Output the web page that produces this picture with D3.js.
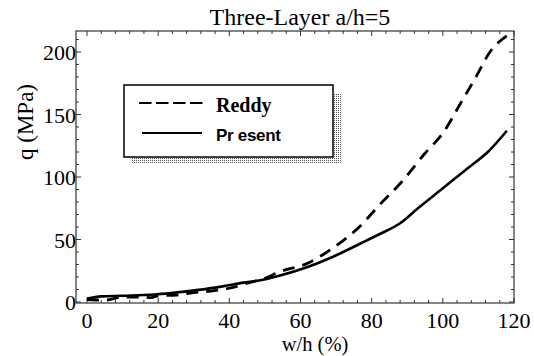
<!DOCTYPE html>
<html><head><meta charset="utf-8">
<script src="https://cdn.jsdelivr.net/npm/d3@7"></script>
<style>body{margin:0;background:#fff}svg{display:block}</style>
</head><body>
<svg id="c" width="534" height="356"></svg>
<script>
const title = "Three-Layer a/h=5";
const xLabel = "w/h (%)";
const yLabel = "q (MPa)";
const xTicks = [0, 20, 40, 60, 80, 100, 120];
const yTicks = [0, 50, 100, 150, 200];
const seriesNames = ["Reddy", "Pr esent"];
const presentW = [0, 4, 10, 19, 28, 34, 39, 44, 48, 54, 62, 69, 77, 82, 88, 93, 100, 107, 113, 118];
const presentQ = [2.7, 4.5, 5, 6, 8.5, 10.7, 13, 15.5, 17, 21, 28, 36, 47, 54, 63, 75, 91, 107, 121, 137];
const reddyW = [0, 5, 10, 15, 18, 20, 25, 30, 34, 40, 45, 50, 54, 62, 69, 76.5, 82, 88.4, 95, 100, 105, 109.5, 113, 118];
const reddyQ = [2, 1.5, 4, 4, 3.5, 5, 5.5, 7.5, 8.5, 11, 15, 19, 24, 31, 43, 60, 77, 96, 119, 135, 159, 181, 199, 213];

const SERIF = '"Liberation Serif", serif';
const SANS = '"Liberation Sans", sans-serif';
const svg = d3.select("#c");
const L = 76, R = 514, T = 31, B = 303;
const x = d3.scaleLinear().domain([0, 120]).range([87, 514]);
const y = d3.scaleLinear().domain([0, 200]).range([302, 52]);

svg.append("rect").attr("x", L).attr("y", T).attr("width", R - L).attr("height", B - T)
  .attr("fill", "none").attr("stroke", "#333").attr("stroke-width", 1.2);

const xMinor = d3.range(0, 121, 4);
const yMinor = d3.range(0, 217, 10);
const tk = svg.append("g").attr("stroke", "#333").attr("stroke-width", 1);
xMinor.forEach(v => {
  const len = v % 20 === 0 ? 5 : 3;
  tk.append("line").attr("x1", x(v)).attr("x2", x(v)).attr("y1", B).attr("y2", B - len);
  tk.append("line").attr("x1", x(v)).attr("x2", x(v)).attr("y1", T).attr("y2", T + len);
});
yMinor.forEach(v => {
  const len = v % 50 === 0 ? 5 : 3;
  tk.append("line").attr("y1", y(v)).attr("y2", y(v)).attr("x1", L).attr("x2", L + len);
  tk.append("line").attr("y1", y(v)).attr("y2", y(v)).attr("x1", R).attr("x2", R - len);
});

svg.append("g").selectAll("text").data(xTicks).join("text").style("font-family", SERIF)
  .attr("x", d => x(d)).attr("y", 328).attr("text-anchor", "middle")
  .attr("font-size", 22).text(d => d);
svg.append("g").selectAll("text").data(yTicks).join("text").style("font-family", SERIF)
  .attr("x", 76).attr("y", d => y(d) + 8).attr("text-anchor", "end")
  .attr("font-size", 22).text(d => d);

svg.append("text").style("font-family", SERIF).attr("x", 300).attr("y", 25).attr("text-anchor", "middle")
  .attr("font-size", 24).text(title);
svg.append("text").style("font-family", SERIF).attr("x", 315).attr("y", 351).attr("text-anchor", "middle")
  .attr("font-size", 20.5).text(xLabel);
svg.append("text").style("font-family", SERIF).attr("transform", "translate(33,122) rotate(-90)").attr("text-anchor", "middle")
  .attr("font-size", 23).text(yLabel);

const line = d3.line().x(d => x(d[0])).y(d => y(d[1])).curve(d3.curveMonotoneX);
const presentData = presentW.map((w, i) => [w, presentQ[i]]);
const reddyData = reddyW.map((w, i) => [w, reddyQ[i]]);
svg.append("path").attr("d", line(presentData)).attr("fill", "none")
  .attr("stroke", "#000").attr("stroke-width", 2.6);
svg.append("path").attr("d", line(reddyData)).attr("fill", "none")
  .attr("stroke", "#000").attr("stroke-width", 2.8).attr("stroke-dasharray", "12,8");

const defs = svg.append("defs");
const pat = defs.append("pattern").attr("id", "stip").attr("width", 2).attr("height", 2)
  .attr("patternUnits", "userSpaceOnUse");
pat.append("rect").attr("width", 1).attr("height", 1).attr("fill", "#555");
svg.append("rect").attr("x", 131).attr("y", 93).attr("width", 211).attr("height", 71).attr("fill", "url(#stip)");
svg.append("rect").attr("x", 124).attr("y", 85).attr("width", 209).attr("height", 72)
  .attr("fill", "#fff").attr("stroke", "#000").attr("stroke-width", 1.5);
svg.append("line").attr("x1", 139).attr("x2", 203).attr("y1", 103).attr("y2", 103)
  .attr("stroke", "#000").attr("stroke-width", 2.2).attr("stroke-dasharray", "12.5,4.5");
svg.append("line").attr("x1", 142).attr("x2", 202).attr("y1", 133).attr("y2", 133)
  .attr("stroke", "#000").attr("stroke-width", 1.8);
svg.append("text").style("font-family", SERIF).attr("x", 216).attr("y", 112)
  .attr("font-weight", "bold").attr("font-size", 20).text(seriesNames[0]);
svg.append("text").style("font-family", SANS).attr("x", 216).attr("y", 141)
  .attr("font-weight", "bold").attr("font-size", 17).attr("letter-spacing", -0.3).text(seriesNames[1]);
</script>
</body></html>
